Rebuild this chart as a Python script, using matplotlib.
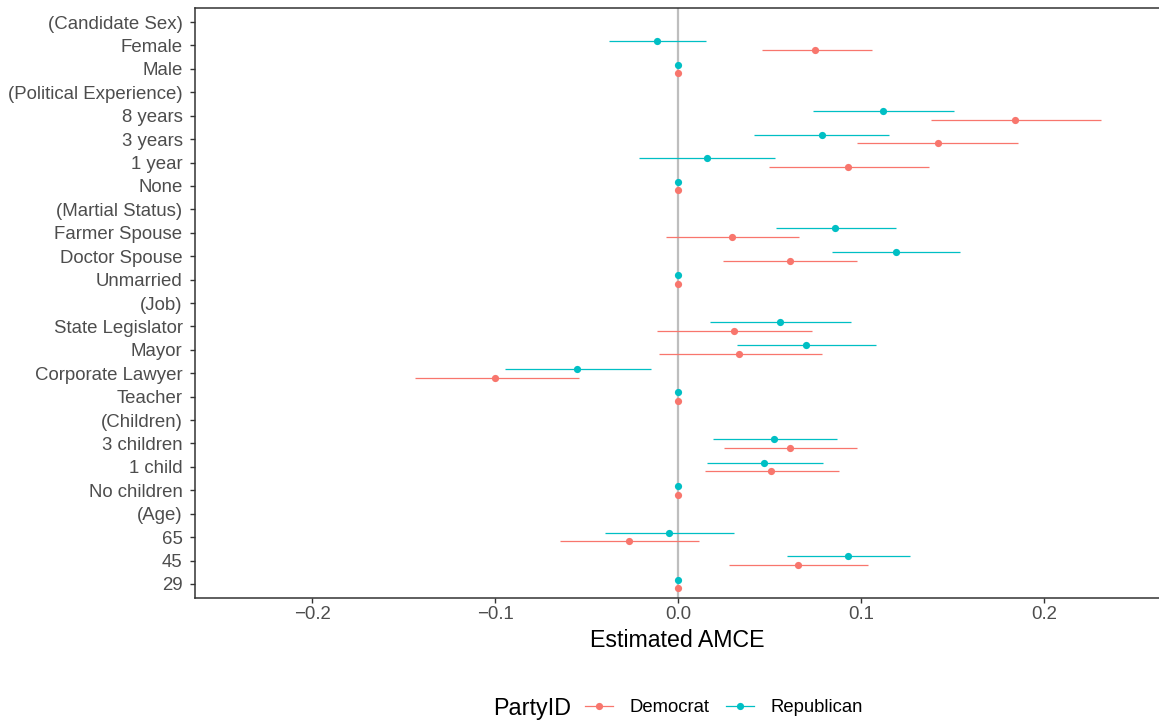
import matplotlib
matplotlib.use("Agg")
import matplotlib.pyplot as plt
from matplotlib.lines import Line2D

plt.rcParams['font.family'] = ['Liberation Sans', 'DejaVu Sans']

# Rows from top to bottom
labels = ["(Candidate Sex)", "Female", "Male", "(Political Experience)", "8 years",
          "3 years", "1 year", "None", "(Martial Status)", "Farmer Spouse",
          "Doctor Spouse", "Unmarried", "(Job)", "State Legislator", "Mayor",
          "Corporate Lawyer", "Teacher", "(Children)", "3 children", "1 child",
          "No children", "(Age)", "65", "45", "29"]

N = float('nan')
dem_est = [N, 0.0749, 0.0, N, 0.184, 0.142, 0.0929, 0.0, N, 0.0295, 0.0612, 0.0, N,
           0.0306, 0.0333, -0.100, 0.0, N, 0.0612, 0.0508, 0.0, N, -0.0268, 0.0656, 0.0]
dem_lo = [N, 0.0459, 0.0, N, 0.138, 0.098, 0.0497, 0.0, N, -0.0066, 0.0246, 0.0, N,
          -0.0115, -0.0104, -0.144, 0.0, N, 0.025, 0.0148, 0.0, N, -0.0645, 0.0279, 0.0]
dem_hi = [N, 0.106, 0.0, N, 0.231, 0.186, 0.137, 0.0, N, 0.066, 0.0978, 0.0, N,
          0.0732, 0.0787, -0.054, 0.0, N, 0.0978, 0.088, 0.0, N, 0.0115, 0.104, 0.0]

rep_est = [N, -0.0115, 0.0, N, 0.112, 0.0787, 0.0158, 0.0, N, 0.0858, 0.119, 0.0, N,
           0.0557, 0.070, -0.0552, 0.0, N, 0.0525, 0.047, 0.0, N, -0.0049, 0.0929, 0.0]
rep_lo = [N, -0.0377, 0.0, N, 0.0738, 0.0415, -0.0213, 0.0, N, 0.0536, 0.084, 0.0, N,
          0.0175, 0.0322, -0.0945, 0.0, N, 0.019, 0.0158, 0.0, N, -0.0399, 0.0596, 0.0]
rep_hi = [N, 0.0153, 0.0, N, 0.151, 0.115, 0.053, 0.0, N, 0.119, 0.154, 0.0, N,
          0.0945, 0.108, -0.0148, 0.0, N, 0.0869, 0.0792, 0.0, N, 0.0306, 0.127, 0.0]

x_ticks = [-0.2, -0.1, 0.0, 0.1, 0.2]
x_ticklabels = ["\u22120.2", "\u22120.1", "0.0", "0.1", "0.2"]

DEM = "#F8766D"
REP = "#00BFC4"

fig = plt.figure(figsize=(11.59, 7.24), dpi=100)
ax = fig.add_axes([195/1159, 126/724, 1 - 195/1159, 590/724])

n = len(labels)
ypos = [n - i for i in range(n)]
dodge = 0.185

ax.axvline(0, color="#BEBEBE", lw=1.6, zorder=1)

for est, lo, hi, col, off in [(dem_est, dem_lo, dem_hi, DEM, -dodge),
                              (rep_est, rep_lo, rep_hi, REP, dodge)]:
    for y, e, l, h in zip(ypos, est, lo, hi):
        if e != e:
            continue
        ax.plot([l, h], [y + off, y + off], color=col, lw=0.9, zorder=2, solid_capstyle='butt')
        ax.plot([e], [y + off], 'o', color=col, ms=5.2, mec='none', zorder=3)

ax.set_xlim(-0.264, 0.2628)
ax.set_ylim(0.4, n + 0.6)
ax.set_yticks(ypos)
ax.set_yticklabels(labels)
ax.set_xticks(x_ticks)
ax.set_xticklabels(x_ticklabels)
ax.tick_params(axis='both', labelsize=13.4, colors="#333333", labelcolor="#4D4D4D",
               length=3.5, width=1.0)
ax.tick_params(axis='y', pad=5.5)
ax.tick_params(axis='x', pad=2.5)
ax.spines['right'].set_visible(False)
for s in ['left', 'bottom', 'top']:
    ax.spines[s].set_color("#333333")
    ax.spines[s].set_linewidth(1.1)
ax.set_xlabel("Estimated AMCE", fontsize=16.7, color="black", labelpad=4)

# Legend
fig.text(493/1159, 1 - 708/724, "PartyID", fontsize=16.8, va='center', ha='left')
handles = [Line2D([0], [0], color=DEM, lw=0.9, marker='o', ms=5.2, mec='none'),
           Line2D([0], [0], color=REP, lw=0.9, marker='o', ms=5.2, mec='none')]
fig.legend(handles, ["Democrat", "Republican"], loc='center left',
           bbox_to_anchor=(585/1159, 1 - 708/724), ncol=2, frameon=False,
           fontsize=13.3, handlelength=1.5, handletextpad=0.9, columnspacing=0.9,
           borderaxespad=0, borderpad=0)

fig.savefig("out.png", dpi=100)
